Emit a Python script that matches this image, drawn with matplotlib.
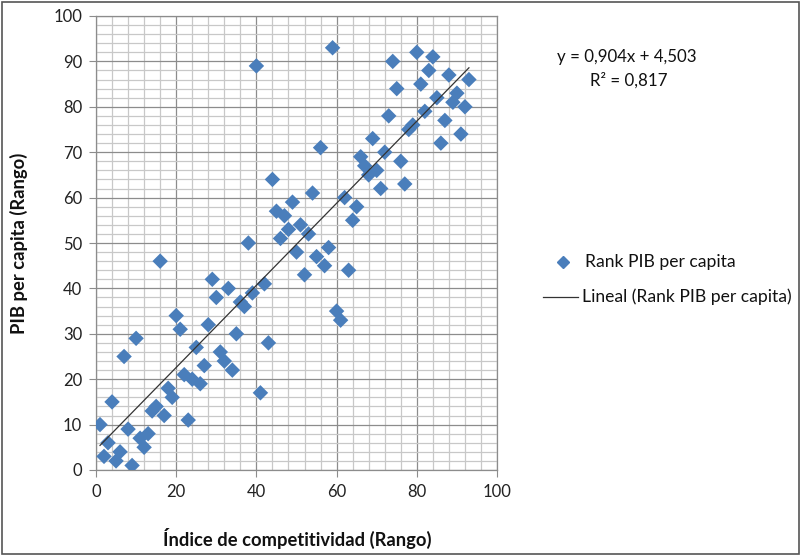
import numpy as np
import matplotlib
matplotlib.use("Agg")
import matplotlib.pyplot as plt
from matplotlib.patches import Rectangle
from matplotlib.lines import Line2D
from matplotlib.ticker import MultipleLocator

plt.rcParams['font.family'] = ['Lato', 'DejaVu Sans']

competitividad = list(range(1, 94))
pib_rank = [10, 3, 6, 15, 2, 4, 25, 9, 1, 29, 7, 5, 8, 13, 14, 46, 12, 18, 16, 34,
            31, 21, 11, 20, 27, 19, 23, 32, 42, 38, 26, 24, 40, 22, 30, 37, 36, 50, 39, 89,
            17, 41, 28, 64, 57, 51, 56, 53, 59, 48, 54, 43, 52, 61, 47, 71, 45, 49, 93, 35,
            33, 60, 44, 55, 58, 69, 67, 65, 73, 66, 62, 70, 78, 90, 84, 68, 63, 75, 76, 92,
            85, 79, 88, 91, 82, 72, 77, 87, 81, 83, 74, 80, 86]
eq_text = "y = 0,904x + 4,503"
r2_text = "R² = 0,817"
series_label = "Rank PIB per capita"
trend_label = "Lineal (Rank PIB per capita)"
x_label = "Índice de competitividad (Rango)"
y_label = "PIB per capita (Rango)"

x = np.array(competitividad, dtype=float)
y = np.array(pib_rank, dtype=float)
slope, intercept = np.polyfit(x, y, 1)

W, H = 803, 558
fig = plt.figure(figsize=(W / 100, H / 100), dpi=100)
fig.patch.set_facecolor('white')
ax = fig.add_axes([96 / W, 1 - 470 / H, (497 - 96) / W, (470 - 16) / H])

major_c = '#8c8c8c'
minor_c = '#c8c8c8'
txt_c = '#111111'

ax.set_xlim(0, 100)
ax.set_ylim(0, 100)
ax.xaxis.set_major_locator(MultipleLocator(20))
ax.xaxis.set_minor_locator(MultipleLocator(4))
ax.yaxis.set_major_locator(MultipleLocator(10))
ax.yaxis.set_minor_locator(MultipleLocator(2))
ax.grid(which='minor', color=minor_c, linewidth=0.9)
ax.grid(which='major', color=major_c, linewidth=0.9)
ax.set_axisbelow(True)

for s in ax.spines.values():
    s.set_color(major_c)
    s.set_linewidth(0.9)

ax.tick_params(which='major', direction='out', length=5, color=major_c,
               labelsize=12, labelcolor='#222222', pad=5)
ax.tick_params(which='minor', length=0)

ax.scatter(x, y, marker='D', s=62, color='#4a7ebb', edgecolors='none', zorder=3,
           label=series_label)
xl = np.array([x.min(), x.max()])
ax.plot(xl, slope * xl + intercept, color='#333333', linewidth=0.9, zorder=4,
        label=trend_label)

fig.text(297 / W, 1 - 538 / H, x_label, ha='center', va='center',
         fontsize=13.2, fontweight='bold', color=txt_c)
fig.text(19 / W, 1 - 243 / H, y_label, ha='center', va='center', rotation=90,
         fontsize=13.2, fontweight='bold', color=txt_c)

fig.text(557 / W, 1 - 57 / H, eq_text, ha='left', va='center', fontsize=12.2, color=txt_c)
fig.text(590 / W, 1 - 80 / H, r2_text, ha='left', va='center', fontsize=12.2, color=txt_c)

# legend
fig.add_artist(Line2D([563 / W], [1 - 262 / H], marker='D', markersize=6, color='#4a7ebb',
                      linestyle='none', transform=fig.transFigure))
fig.text(585 / W, 1 - 262 / H, series_label, ha='left', va='center', fontsize=12.6, color=txt_c)
fig.add_artist(Line2D([543 / W, 578 / W], [1 - 297 / H, 1 - 297 / H], color='#333333',
                      linewidth=0.9, transform=fig.transFigure))
fig.text(582 / W, 1 - 297 / H, trend_label, ha='left', va='center', fontsize=12.6, color=txt_c)

fig.add_artist(Rectangle((2 / W, 1 - 554 / H), (799 - 2) / W, (554 - 2) / H,
                         transform=fig.transFigure, fill=False, edgecolor='#555555',
                         linewidth=1.2))

fig.savefig('out.png', dpi=100, facecolor='white')
